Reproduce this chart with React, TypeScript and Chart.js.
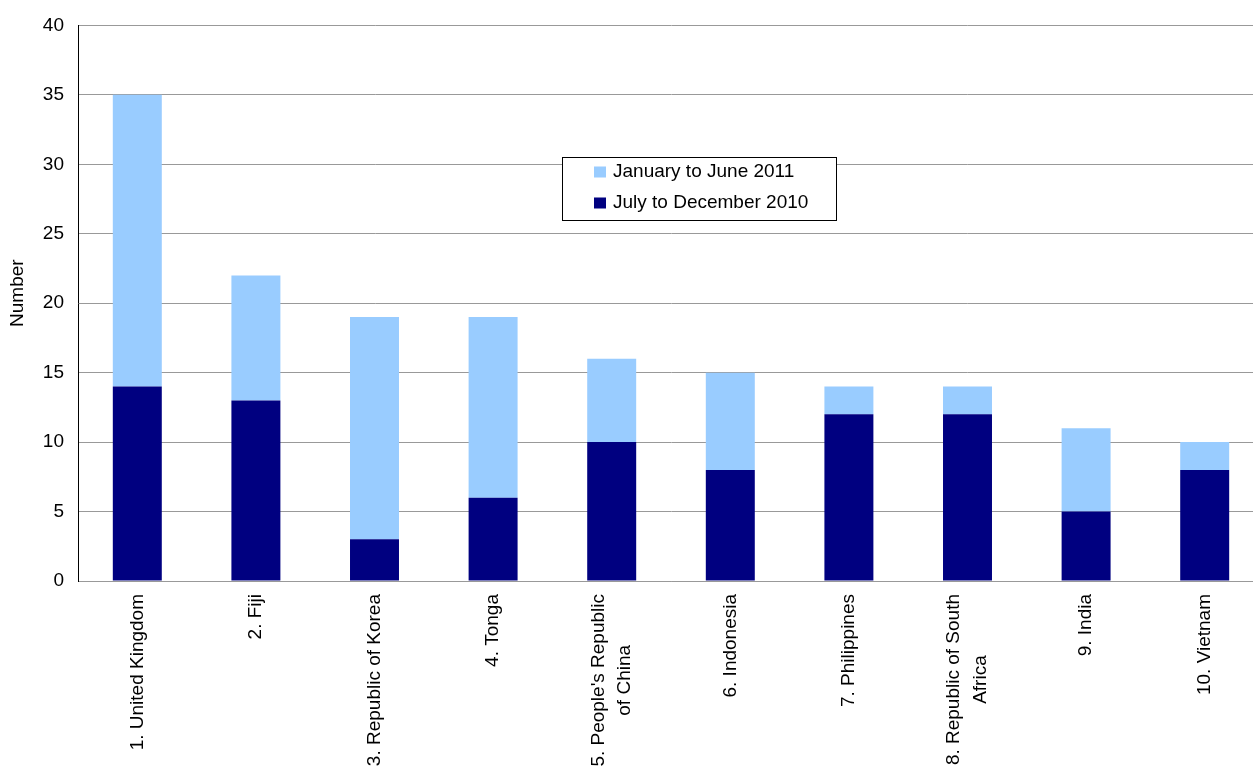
import { useEffect, useRef } from "react";
import { Chart, registerables } from "chart.js";

Chart.register(...registerables);

const FONT = "'Liberation Sans', Arial, sans-serif";
const SIZE = 19;

// Top ten countries, number per half-year period
const categories: (string | string[])[] = [
  "1. United Kingdom",
  "2. Fiji",
  "3. Republic of Korea",
  "4. Tonga",
  ["5. People's Republic", "of China"],
  "6. Indonesia",
  "7. Philippines",
  ["8. Republic of South", "Africa"],
  "9. India",
  "10. Vietnam",
];

const julyToDec2010 = [14, 13, 3, 6, 10, 8, 12, 12, 5, 8];
const janToJune2011 = [21, 9, 16, 13, 6, 7, 2, 2, 6, 2];

const yTicks = [0, 5, 10, 15, 20, 25, 30, 35, 40];

// Rotated, centred multi-line category labels under the x axis
const categoryLabels = {
  id: "categoryLabels",
  afterDraw(chart: any) {
    const xs = chart.scales.x;
    const ctx = chart.ctx as CanvasRenderingContext2D;
    ctx.save();
    ctx.font = `${SIZE}px ${FONT}`;
    ctx.fillStyle = "#000";
    ctx.textAlign = "center";
    ctx.textBaseline = "middle";
    const lineH = 26.5;
    (chart.data.labels as (string | string[])[]).forEach((lab, i) => {
      const lines = Array.isArray(lab) ? lab : [lab];
      const maxW = Math.max(...lines.map((l) => ctx.measureText(l).width));
      const cx = xs.getPixelForValue(i);
      ctx.save();
      ctx.translate(cx, xs.top + 13);
      ctx.rotate(-Math.PI / 2);
      lines.forEach((l, k) => {
        ctx.fillText(l, -maxW / 2, (k - (lines.length - 1) / 2) * lineH);
      });
      ctx.restore();
    });
    ctx.restore();
  },
};

// Vertical axis title, sitting slightly above the plot's middle
const axisTitle = {
  id: "axisTitle",
  afterDraw(chart: any, _args: any, opts: any) {
    const ctx = chart.ctx as CanvasRenderingContext2D;
    const area = chart.chartArea;
    ctx.save();
    ctx.font = `${SIZE}px ${FONT}`;
    ctx.fillStyle = "#000";
    ctx.textAlign = "center";
    ctx.textBaseline = "middle";
    ctx.translate(opts.x, (area.top + area.bottom) / 2 - 10);
    ctx.rotate(-Math.PI / 2);
    ctx.fillText(opts.text, 0, 0);
    ctx.restore();
  },
};

// Boxed legend floating inside the plot area
const boxLegend = {
  id: "boxLegend",
  afterDraw(chart: any, _args: any, opts: any) {
    const ctx = chart.ctx as CanvasRenderingContext2D;
    const { x, y, w, h, rowH } = opts;
    ctx.save();
    ctx.fillStyle = "#fff";
    ctx.fillRect(x, y, w, h);
    ctx.strokeStyle = "#000";
    ctx.lineWidth = 1;
    ctx.strokeRect(x + 0.5, y + 0.5, w, h);
    ctx.font = `${SIZE}px ${FONT}`;
    ctx.textBaseline = "middle";
    ctx.textAlign = "left";
    const order = [...chart.data.datasets].reverse();
    order.forEach((ds: any, k: number) => {
      const cy = y + 15 + k * rowH;
      ctx.fillStyle = ds.backgroundColor;
      ctx.fillRect(x + 32, cy - 5.5, 12, 11);
      ctx.fillStyle = "#000";
      ctx.fillText(ds.label, x + 51, cy);
    });
    ctx.restore();
  },
};

export default function App() {
  const ref = useRef<HTMLCanvasElement | null>(null);

  useEffect(() => {
    if (!ref.current) return;
    const chart = new Chart(ref.current, {
      type: "bar",
      data: {
        labels: categories as any,
        datasets: [
          {
            label: "July to December 2010",
            data: julyToDec2010,
            backgroundColor: "#000080",
          },
          {
            label: "January to June 2011",
            data: janToJune2011,
            backgroundColor: "#99CCFF",
          },
        ],
      },
      options: {
        responsive: false,
        animation: false,
        devicePixelRatio: 1,
        layout: { padding: { top: 24, right: 0, left: 0, bottom: 0 } },
        datasets: {
          bar: { categoryPercentage: 1, barPercentage: 0.413 },
        },
        plugins: {
          legend: { display: false },
          tooltip: { enabled: false },
          boxLegend: { x: 562, y: 157, w: 274, h: 63, rowH: 31 },
          axisTitle: { text: "Number", x: 18 },
        } as any,
        scales: {
          x: {
            stacked: true,
            grid: { display: false },
            border: { color: "#999", width: 1 },
            ticks: { display: false },
            afterFit(scale: any) {
              scale.height = 194;
            },
          },
          y: {
            stacked: true,
            min: 0,
            max: 40,
            afterBuildTicks(scale: any) {
              scale.ticks = yTicks.map((v) => ({ value: v }));
            },
            grid: { color: "#999", drawTicks: false },
            border: { color: "#000", width: 1 },
            ticks: {
              color: "#000",
              padding: 14,
              font: { family: FONT, size: SIZE },
            },
            afterFit(scale: any) {
              scale.width = 78;
            },
          },
        },
      },
      plugins: [categoryLabels, axisTitle, boxLegend],
    });
    return () => chart.destroy();
  }, []);

  return (
    <div
      style={{
        position: "fixed",
        left: 0,
        top: 0,
        width: 1253,
        height: 775,
        overflow: "hidden",
        background: "#fff",
      }}
    >
      <canvas ref={ref} width={1264} height={775} style={{ display: "block" }} />
    </div>
  );
}
